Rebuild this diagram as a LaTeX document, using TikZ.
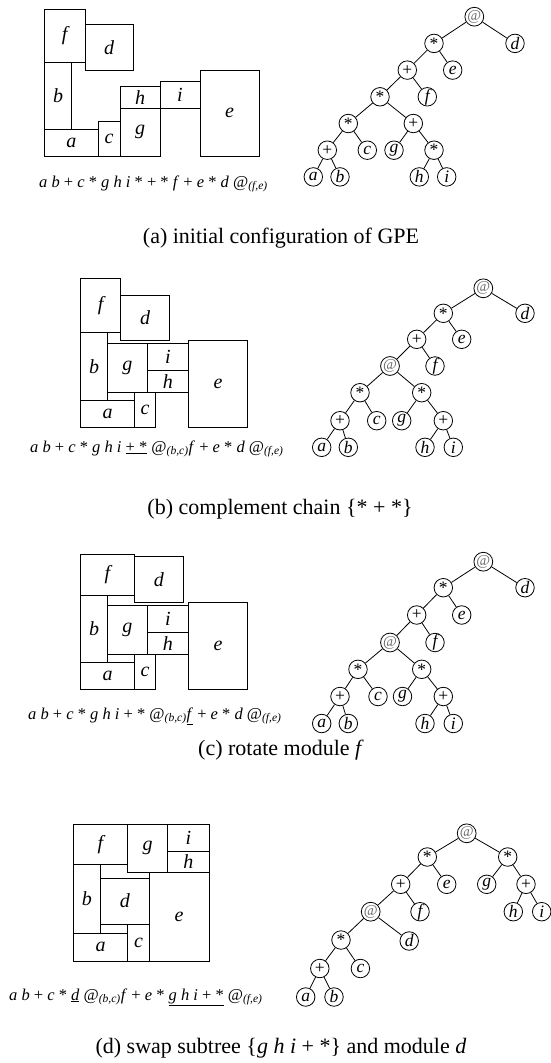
\documentclass[tikz,border=0pt]{standalone}
\usepackage{fontspec}
\setmainfont{Liberation Serif}
\newcommand{\atg}{{\fontsize{15}{15}\selectfont\color{black!60}@}}
\newcommand{\sbs}[1]{\textsubscript{\textit{#1}}}
\begin{document}
\begin{tikzpicture}[x=1pt,y=-1pt,
  blk/.style={draw, line width=0.9pt},
  blbl/.style={font=\fontsize{20}{20}\selectfont\itshape, inner sep=0pt},
  tnode/.style={circle, draw, line width=0.8pt, minimum size=18.5pt, inner sep=0pt, font=\fontsize{17.5}{17.5}\selectfont},
  lf/.style={tnode, font=\fontsize{17.5}{17.5}\selectfont\itshape},
  edg/.style={line width=0.8pt},
  expr/.style={font=\fontsize{16.5}{16.5}\selectfont, inner sep=0pt, anchor=base west},
  captxt/.style={font=\fontsize{22}{22}\selectfont, inner sep=0pt, anchor=base}]
\useasboundingbox (0,0) rectangle (551,1063);

% ---------- (a) floorplan
\draw[blk] (44.3,9) rectangle (85,62.3) node[blbl,pos=.5] (af) {f};
\draw[blk] (85,24.3) rectangle (133.3,70.3) node[blbl,pos=.5] (ad) {d};
\draw[blk] (44.3,62.3) rectangle (71.7,129.3) node[blbl,pos=.5] (ab) {b};
\draw[blk] (44.3,129.3) rectangle (98.3,156) node[blbl,pos=.5] (aa) {a};
\draw[blk] (98.3,121.7) rectangle (120,156) node[blbl,pos=.5] (ac) {c};
\draw[blk] (120,108.3) rectangle (160,156) node[blbl,pos=.5] (ag) {g};
\draw[blk] (120,86.7) rectangle (160,108.3) node[blbl,pos=.5] (ah) {h};
\draw[blk] (160,81) rectangle (200,108.3) node[blbl,pos=.5] (ai) {i};
\draw[blk] (200,70.3) rectangle (259.3,156) node[blbl,pos=.5] (ae) {e};
\node[expr] (EA) at (39,187) {\textit{a b} + \textit{c} * \textit{g h i} * + * \textit{f} + \textit{e} * \textit{d} @\sbs{(f,e)}};

% ---------- (a) tree
\node[tnode] (A1) at (474.3,16.7) {\atg};
\node[tnode] (A2) at (434,43.4) {*};
\node[lf] (Ad) at (515,43.4) {d};
\node[tnode] (A3) at (407.3,70.1) {+};
\node[lf] (Ae) at (452.7,70.1) {e};
\node[tnode] (A4) at (380,96.8) {*};
\node[lf] (Af) at (427.3,96.8) {f};
\node[tnode] (A5) at (348.3,123.5) {*};
\node[tnode] (A6) at (413.3,123.5) {+};
\node[tnode] (A7) at (327.3,150.2) {+};
\node[lf] (Ac) at (367.3,150.2) {c};
\node[lf] (Ag) at (394,150.2) {g};
\node[tnode] (A8) at (434,150.2) {*};
\node[lf] (Aa) at (313.3,176.9) {a};
\node[lf] (Ab) at (340,176.9) {b};
\node[lf] (Ah) at (419.3,176.9) {h};
\node[lf] (Ai) at (446.7,176.9) {i};
\foreach \p/\q in {A1/A2,A1/Ad,A2/A3,A2/Ae,A3/A4,A3/Af,A4/A5,A4/A6,A5/A7,A5/Ac,A6/Ag,A6/A8,A7/Aa,A7/Ab,A8/Ah,A8/Ai}
  \draw[edg] (\p) -- (\q);
\node[captxt] (CA) at (281,243) {(a) initial configuration of GPE};

% ---------- (b) floorplan
\draw[blk] (80.7,278.3) rectangle (120.7,332.7) node[blbl,pos=.5] (bf) {f};
\draw[blk] (120.7,295) rectangle (169.3,340.7) node[blbl,pos=.5] (bd) {d};
\draw[blk] (80.7,332.7) rectangle (107.3,400) node[blbl,pos=.5] (bb) {b};
\draw[blk] (107.3,343.3) rectangle (147.3,392.3) node[blbl,pos=.5] (bg) {g};
\draw[blk] (147.3,343.3) rectangle (188.3,370.7) node[blbl,pos=.5] (bi) {i};
\draw[blk] (147.3,370.7) rectangle (188.3,392.3) node[blbl,pos=.5] (bh) {h};
\draw[blk] (188.3,340.7) rectangle (247.7,427.3) node[blbl,pos=.5] (be) {e};
\draw[blk] (80.7,400) rectangle (134.3,427.3) node[blbl,pos=.5] (ba) {a};
\draw[blk] (134.3,392.3) rectangle (155.7,427.3) node[blbl,pos=.5] (bc) {c};
\node[expr] (EB) at (30,452) {\textit{a b} + \textit{c} * \textit{g h i} \underline{+ *} @\sbs{(b,c)}\textit{f} + \textit{e} * \textit{d} @\sbs{(f,e)}};

% ---------- (b) tree
\node[tnode] (B1) at (483.3,288.3) {\atg};
\node[tnode] (B2) at (443.3,313.3) {*};
\node[lf] (Bd) at (525,313.3) {d};
\node[tnode] (B3) at (416.7,339.3) {+};
\node[lf] (Be) at (461.7,339.3) {e};
\node[tnode] (B4) at (390,366) {\atg};
\node[lf] (Bf) at (435,366) {f};
\node[tnode] (B5) at (360,392.7) {*};
\node[tnode] (B6) at (421.7,392.7) {*};
\node[tnode] (B7) at (340,420.7) {+};
\node[lf] (Bc) at (376.7,420.7) {c};
\node[lf] (Bg) at (401.7,420.7) {g};
\node[tnode] (B8) at (443.3,420.7) {+};
\node[lf] (Ba) at (321.7,447.3) {a};
\node[lf] (Bb) at (348.3,447.3) {b};
\node[lf] (Bh) at (425,447.3) {h};
\node[lf] (Bi) at (453.3,447.3) {i};
\foreach \p/\q in {B1/B2,B1/Bd,B2/B3,B2/Be,B3/B4,B3/Bf,B4/B5,B4/B6,B5/B7,B5/Bc,B6/Bg,B6/B8,B7/Ba,B7/Bb,B8/Bh,B8/Bi}
  \draw[edg] (\p) -- (\q);
\node[captxt] (CB) at (280,514) {(b) complement chain \{* + *\}};

% ---------- (c) floorplan
\draw[blk] (80.7,554) rectangle (134.3,595) node[blbl,pos=.5] (cf) {f};
\draw[blk] (134.3,556.7) rectangle (183.3,602.7) node[blbl,pos=.5] (cd) {d};
\draw[blk] (80.7,595) rectangle (107.3,662.3) node[blbl,pos=.5] (cb) {b};
\draw[blk] (107.3,605.7) rectangle (147.3,654) node[blbl,pos=.5] (cg) {g};
\draw[blk] (147.3,605.7) rectangle (188.3,632.7) node[blbl,pos=.5] (ci) {i};
\draw[blk] (147.3,632.7) rectangle (188.3,654) node[blbl,pos=.5] (ch) {h};
\draw[blk] (188.3,602.7) rectangle (247.7,689.3) node[blbl,pos=.5] (ce) {e};
\draw[blk] (80.7,662.3) rectangle (134.3,689.3) node[blbl,pos=.5] (ca) {a};
\draw[blk] (134.3,654) rectangle (155.7,689.3) node[blbl,pos=.5] (cc) {c};
\node[expr] (EC) at (28,719) {\textit{a b} + \textit{c} * \textit{g h i} + * @\sbs{(b,c)}\underline{\textit{f}} + \textit{e} * \textit{d} @\sbs{(f,e)}};

% ---------- (c) tree
\node[tnode] (C1) at (483.3,561.7) {\atg};
\node[tnode] (C2) at (443.3,587.7) {*};
\node[lf] (Cd) at (525,587.7) {d};
\node[tnode] (C3) at (416.7,615) {+};
\node[lf] (Ce) at (461.7,615) {e};
\node[tnode] (C4) at (390,642.5) {\atg};
\node[lf] (Cf) at (435,642.5) {f};
\node[tnode] (C5) at (358,669.3) {*};
\node[tnode] (C6) at (421.7,669.3) {*};
\node[tnode] (C7) at (340,696.5) {+};
\node[lf] (Cc) at (378,696.5) {c};
\node[lf] (Cg) at (402.5,696.5) {g};
\node[tnode] (C8) at (443.3,696.5) {+};
\node[lf] (Ca) at (321.7,723.5) {a};
\node[lf] (Cb) at (348.3,723.5) {b};
\node[lf] (Ch) at (425,723.5) {h};
\node[lf] (Ci) at (453.3,723.5) {i};
\foreach \p/\q in {C1/C2,C1/Cd,C2/C3,C2/Ce,C3/C4,C3/Cf,C4/C5,C4/C6,C5/C7,C5/Cc,C6/Cg,C6/C8,C7/Ca,C7/Cb,C8/Ch,C8/Ci}
  \draw[edg] (\p) -- (\q);
\node[captxt] (CC) at (281,755) {(c) rotate module \textit{f}};

% ---------- (d) floorplan
\draw[blk] (73.3,824) rectangle (127.7,864.3) node[blbl,pos=.5] (df) {f};
\draw[blk] (127.7,824) rectangle (167.7,872.7) node[blbl,pos=.5] (dg) {g};
\draw[blk] (167.7,824) rectangle (209,851) node[blbl,pos=.5] (di) {i};
\draw[blk] (167.7,851) rectangle (209,872.7) node[blbl,pos=.5] (dh) {h};
\draw[blk] (73.3,864.3) rectangle (100.3,933.5) node[blbl,pos=.5] (db) {b};
\draw[blk] (100.3,878.3) rectangle (149.3,924) node[blbl,pos=.5] (dd) {d};
\draw[blk] (73.3,933.5) rectangle (127.7,961) node[blbl,pos=.5] (da) {a};
\draw[blk] (127.7,924) rectangle (149.3,961) node[blbl,pos=.5] (dc) {c};
\draw[blk] (149.3,872.7) rectangle (209,961) node[blbl,pos=.5] (de) {e};
\node[expr] (ED) at (9,1000) {\textit{a b} + \textit{c} * \underline{\textit{d}} @\sbs{(b,c)}\textit{f} + \textit{e} * \underline{\textit{g h i} + *} @\sbs{(f,e)}};

% ---------- (d) tree
\node[tnode] (D1) at (466.7,833.3) {\atg};
\node[tnode] (D2) at (427.3,857) {*};
\node[tnode] (D3) at (507.7,857) {*};
\node[tnode] (D4) at (400.7,884.3) {+};
\node[lf] (De) at (446.7,884.3) {e};
\node[lf] (Dg) at (486.7,884.3) {g};
\node[tnode] (D5) at (526,884.3) {+};
\node[tnode] (D6) at (370.7,911.7) {\atg};
\node[lf] (Df) at (420,911.7) {f};
\node[lf] (Dh) at (513.3,911.7) {h};
\node[lf] (Di) at (541.7,911.7) {i};
\node[tnode] (D7) at (341,940) {*};
\node[lf] (Dd) at (409.2,941) {d};
\node[tnode] (D8) at (319.8,968.5) {+};
\node[lf] (Dc) at (360.4,968.5) {c};
\node[lf] (Da) at (305.7,997) {a};
\node[lf] (Db) at (334,997) {b};
\foreach \p/\q in {D1/D2,D1/D3,D2/D4,D2/De,D3/Dg,D3/D5,D4/D6,D4/Df,D5/Dh,D5/Di,D6/D7,D6/Dd,D7/D8,D7/Dc,D8/Da,D8/Db}
  \draw[edg] (\p) -- (\q);
\node[captxt] (CD) at (281,1053) {(d) swap subtree \{\textit{g h i} + *\} and module \textit{d}};
\end{tikzpicture}
\end{document}
